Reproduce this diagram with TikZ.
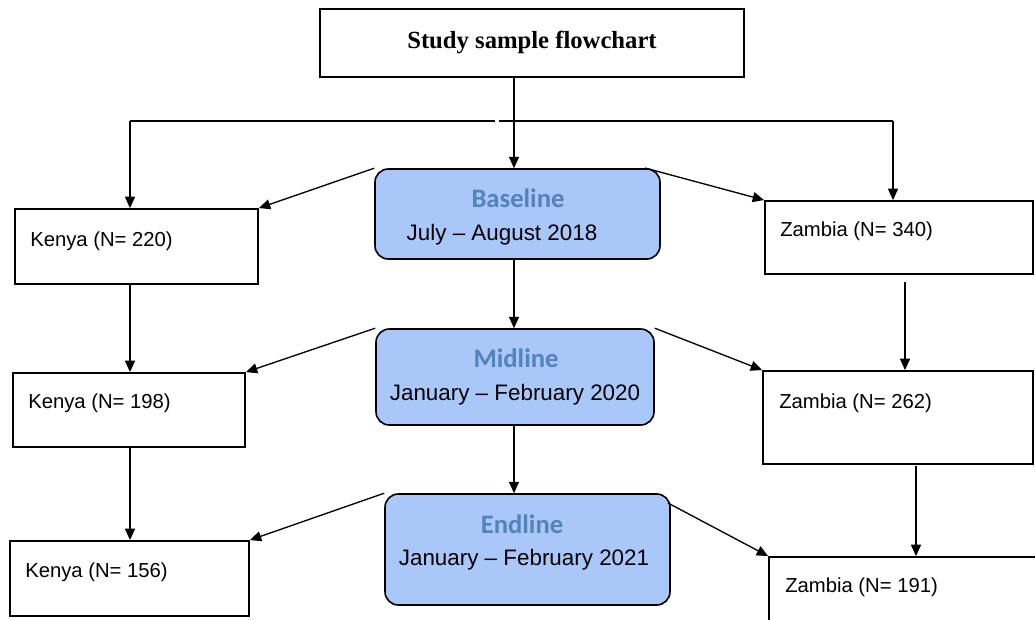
\documentclass[tikz,border=0pt]{standalone}
\usepackage{fontspec}
\setmainfont{Liberation Sans}
\newfontfamily\titlefont{Liberation Serif}
\newfontfamily\phasefont{Carlito}
\usetikzlibrary{arrows.meta}
\definecolor{boxblue}{RGB}{170,199,250}
\definecolor{phaseblue}{RGB}{84,130,186}
\tikzset{
  plainbox/.style={draw=black, line width=1.4pt, fill=white, inner sep=0pt},
  phasebox/.style={draw=black, line width=1.2pt, fill=boxblue, rounded corners=10pt, inner sep=0pt},
  arr/.style={line width=1pt, -{Triangle[length=8.5pt,width=7.5pt]}},
  ln/.style={line width=1pt},
  cnt/.style={anchor=west, inner sep=0pt, font=\fontsize{15.2}{18}\selectfont},
  datetxt/.style={inner sep=0pt, font=\fontsize{16.8}{20}\selectfont},
  phasetxt/.style={inner sep=0pt, text=phaseblue, font=\phasefont\bfseries\fontsize{20}{24}\selectfont},
}
\begin{document}
\begin{tikzpicture}[x=0.75pt,y=-0.75pt]
\useasboundingbox (0,0) rectangle (1035,619);
% boxes
\node[plainbox, minimum width=424*0.75pt, minimum height=68*0.75pt] (title) at (532,43) {};
\node[inner sep=0pt, font=\titlefont\bfseries\fontsize{18.5}{22}\selectfont] (titletxt) at (532,42) {Study sample flowchart};

\node[phasebox, minimum width=285*0.75pt, minimum height=90*0.75pt] (base) at (517.5,214) {};
\node[phasebox, minimum width=278*0.75pt, minimum height=96*0.75pt] (mid) at (515,377) {};
\node[phasebox, minimum width=285*0.75pt, minimum height=111*0.75pt] (end) at (527.5,549.5) {};

\node[plainbox, minimum width=243*0.75pt, minimum height=75*0.75pt] (k1) at (136.5,246.5) {};
\node[plainbox, minimum width=232*0.75pt, minimum height=74*0.75pt] (k2) at (129,410) {};
\node[plainbox, minimum width=239*0.75pt, minimum height=75*0.75pt] (k3) at (129.5,578.5) {};
\node[plainbox, minimum width=268*0.75pt, minimum height=73*0.75pt] (z1) at (899,237.5) {};
\node[plainbox, minimum width=270*0.75pt, minimum height=93*0.75pt] (z2) at (898,417.5) {};
\node[plainbox, minimum width=290*0.75pt, minimum height=80*0.75pt] (z3) at (914,597) {};

% texts
\node[phasetxt] (basel) at (518,198) {Baseline};
\node[datetxt] (based) at (502,235) {July – August 2018};
\node[phasetxt] (midl) at (516,358) {Midline};
\node[datetxt] (midd) at (515,395) {January – February 2020};
\node[phasetxt] (endl) at (522,524) {Endline};
\node[datetxt] (endd) at (524,560) {January – February 2021};

\node[cnt] (k1t) at (30,241) {Kenya (N= 220)};
\node[cnt] (k2t) at (28,403) {Kenya (N= 198)};
\node[cnt] (k3t) at (25,572) {Kenya (N= 156)};
\node[cnt] (z1t) at (780,231) {Zambia (N= 340)};
\node[cnt] (z2t) at (779,403) {Zambia (N= 262)};
\node[cnt] (z3t) at (785,587) {Zambia (N= 191)};

% coordinates
\coordinate (split) at (514,121);
\coordinate (gapL) at (495,121);
\coordinate (gapR) at (499,121);
\coordinate (leftc) at (130,121);
\coordinate (rightc) at (893,121);
\coordinate (bNE) at (645,168);
\coordinate (eNE) at (668,503);
\coordinate (z1s) at (905,282);
\coordinate (z2s) at (916,466);

% connectors
\draw[arr] (title.south -| split) -- (base.north -| split);
\draw[ln] (leftc) -- (gapL);
\draw[ln] (gapR) -- (rightc);
\draw[arr] (leftc) -- (k1.north -| leftc);
\draw[arr] (rightc) -- (z1.north -| rightc);

\draw[arr] (base.north west) -- (k1.north east);
\draw[arr] (bNE) -- (z1.north west);
\draw[arr] (base.south -| split) -- (mid.north -| split);
\draw[arr] (k1.south -| leftc) -- (k2.north -| leftc);
\draw[arr] (z1s) -- (z2.north -| z1s);

\draw[arr] (mid.north west) -- (k2.north east);
\draw[arr] (mid.north east) -- (z2.north west);
\draw[arr] (mid.south -| split) -- (end.north -| split);
\draw[arr] (k2.south -| leftc) -- (k3.north -| leftc);
\draw[arr] (z2s) -- (z3.north -| z2s);

\draw[arr] (end.north west) -- (k3.north east);
\draw[arr] (eNE) -- (z3.north west);
\end{tikzpicture}
\end{document}
